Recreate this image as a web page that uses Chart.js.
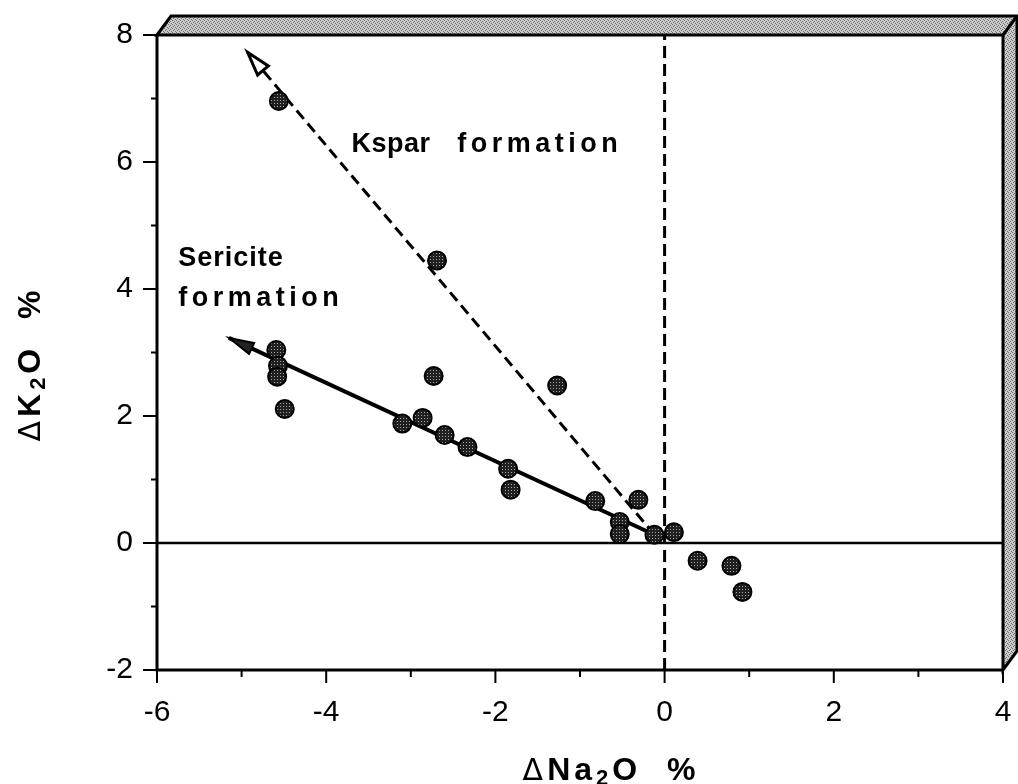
<!DOCTYPE html>
<html>
<head>
<meta charset="utf-8">
<script src="https://cdn.jsdelivr.net/npm/chart.js@4.4.1/dist/chart.umd.min.js"></script>
<style>
  html, body { margin: 0; padding: 0; background: #fff; }
</style>
</head>
<body>
<canvas id="NaKChart" width="1018" height="784"></canvas>
<script>
// sample changes (ΔNa2O, ΔK2O) in %
const sampleNa = [-4.56, -2.69, -1.27, -4.59, -4.57, -4.58, -4.49, -2.73, -3.10, -2.86, -2.60, -2.33,
                  -1.85, -1.82, -0.82, -0.31, -0.53, -0.53, -0.12, 0.11, 0.39, 0.79, 0.92]
const sampleK = [6.96, 4.45, 2.48, 3.04, 2.79, 2.62, 2.11, 2.63, 1.88, 1.97, 1.70, 1.51,
                 1.17, 0.84, 0.66, 0.68, 0.33, 0.14, 0.13, 0.17, -0.28, -0.36, -0.77]

// trend arrows, start -> tip
const ksparNa = [-0.12, -4.93]
const ksparK = [0.13, 7.73]
const sericiteNa = [-0.12, -5.15]
const sericiteK = [0.13, 3.23]

// zero reference lines
const zeroNa = [-6, 4]
const zeroK = [-2, 8]

const noteText = ["Kspar", "formation", "Sericite", "formation"]

function pts(xs, ys) {
  return xs.map((x, i) => ({ x: x, y: ys[i] }))
}

// grey stipple for the 3D box faces
function stipple(light, dark, size, dots) {
  const c = document.createElement("canvas")
  c.width = size; c.height = size
  const g = c.getContext("2d")
  g.fillStyle = light
  g.fillRect(0, 0, size, size)
  g.fillStyle = dark
  dots.forEach(d => g.fillRect(d[0], d[1], 1, 1))
  return g.createPattern(c, "repeat")
}

const faceFill = stipple("#cacaca", "#6c6c6c", 4, [[0, 0], [2, 1], [1, 2], [3, 3]])
const dotFill = stipple("#202020", "#a8a8a8", 3, [[1, 1]])

const FONT = "'Liberation Sans', Arial, Helvetica, sans-serif"

const boxPlugin = {
  id: "box",
  beforeDatasetsDraw(chart) {
    const { ctx, chartArea: a, scales } = chart
    const dx = 14, dy = 19
    ctx.save()
    ctx.lineJoin = "miter"
    // top and right faces
    ctx.fillStyle = faceFill
    ctx.beginPath()
    ctx.moveTo(a.left, a.top)
    ctx.lineTo(a.left + dx, a.top - dy)
    ctx.lineTo(a.right + dx, a.top - dy)
    ctx.lineTo(a.right + dx, a.bottom - dy)
    ctx.lineTo(a.right, a.bottom)
    ctx.lineTo(a.right, a.top)
    ctx.closePath()
    ctx.fill()
    ctx.strokeStyle = "#000"
    ctx.lineWidth = 3
    ctx.stroke()
    ctx.beginPath()
    ctx.moveTo(a.right, a.top)
    ctx.lineTo(a.right + dx, a.top - dy)
    ctx.stroke()

    // axes
    ctx.lineWidth = 3
    ctx.beginPath()
    ctx.moveTo(a.left, a.top)
    ctx.lineTo(a.left, a.bottom)
    ctx.lineTo(a.right, a.bottom)
    ctx.stroke()

    // tick marks, long on labelled values, short in between
    ctx.lineWidth = 2
    const xs = scales.x, ys = scales.y
    ctx.beginPath()
    for (let v = xs.min; v <= xs.max; v++) {
      const px = xs.getPixelForValue(v)
      const len = v % 2 === 0 ? 13 : 7
      ctx.moveTo(px, a.bottom)
      ctx.lineTo(px, a.bottom + len)
    }
    for (let v = ys.min; v <= ys.max; v++) {
      const py = ys.getPixelForValue(v)
      const len = v % 2 === 0 ? 14 : 6
      ctx.moveTo(a.left, py)
      ctx.lineTo(a.left - len, py)
    }
    ctx.stroke()
    ctx.restore()
  },
  afterDatasetsDraw(chart) {
    const { ctx } = chart
    const xs = chart.scales.x, ys = chart.scales.y
    function arrow(na, k, open) {
      const n = na.length
      const x0 = xs.getPixelForValue(na[n - 2]), y0 = ys.getPixelForValue(k[n - 2])
      const x1 = xs.getPixelForValue(na[n - 1]), y1 = ys.getPixelForValue(k[n - 1])
      const d = Math.hypot(x1 - x0, y1 - y0)
      const ux = (x1 - x0) / d, uy = (y1 - y0) / d
      const len = open ? 24 : 25, hw = open ? 7 : 6
      const bx = x1 - ux * len, by = y1 - uy * len
      ctx.save()
      ctx.beginPath()
      ctx.moveTo(x1, y1)
      ctx.lineTo(bx - uy * hw, by + ux * hw)
      ctx.lineTo(bx + uy * hw, by - ux * hw)
      ctx.closePath()
      ctx.fillStyle = open ? "#fff" : "#222"
      ctx.fill()
      ctx.lineWidth = open ? 3 : 2
      ctx.lineJoin = "miter"
      ctx.strokeStyle = "#000"
      ctx.stroke()
      ctx.restore()
    }
    arrow(ksparNa, ksparK, true)
    arrow(sericiteNa, sericiteK, false)
  },
  afterDraw(chart) {
    const { ctx } = chart
    const xs = chart.scales.x, ys = chart.scales.y
    ctx.save()
    ctx.fillStyle = "#000"
    ctx.textBaseline = "alphabetic"
    ctx.textAlign = "left"
    ctx.font = "bold 27px " + FONT
    // labels on the trends
    const notes = [
      [noteText[0], -3.70, 6.16, 0.5],
      [noteText[1], -2.45, 6.16, 4.5],
      [noteText[2], -5.75, 4.37, 1],
      [noteText[3], -5.75, 3.74, 4.5]
    ]
    notes.forEach(n => {
      ctx.letterSpacing = n[3] + "px"
      ctx.fillText(n[0], xs.getPixelForValue(n[1]), ys.getPixelForValue(n[2]))
    })

    // axis titles with subscript 2
    function rich(parts, cx, cy) {
      let w = 0
      parts.forEach(p => { ctx.font = p.font; ctx.letterSpacing = "4px"; w += ctx.measureText(p.t).width })
      let x = cx - w / 2
      parts.forEach(p => {
        ctx.font = p.font
        ctx.letterSpacing = "4px"
        ctx.fillText(p.t, x, cy + (p.dy || 0))
        x += ctx.measureText(p.t).width
      })
    }
    const big = "bold 32px " + FONT
    const sub = "bold 22px " + FONT
    const delta = "30px 'DejaVu Sans', " + FONT
    rich([{ t: "Δ", font: delta }, { t: "Na", font: big }, { t: "2", font: sub, dy: 5 }, { t: "O  %", font: big }], 611, 780)
    ctx.translate(40, 364)
    ctx.rotate(-Math.PI / 2)
    rich([{ t: "Δ", font: delta }, { t: "K", font: big }, { t: "2", font: sub, dy: 5 }, { t: "O  %", font: big }], 0, 0)
    ctx.restore()
  }
}

const ctx = document.getElementById("NaKChart").getContext("2d")

const config = {
  type: "scatter",
  data: {
    datasets: [
      {
        data: pts(sampleNa, sampleK),
        order: 0,
        pointRadius: 9,
        pointBorderWidth: 2,
        pointBackgroundColor: dotFill,
        pointBorderColor: "#000"
      },
      {
        data: pts(sericiteNa, sericiteK),
        order: 1,
        showLine: true,
        borderColor: "#000",
        borderWidth: 4,
        pointRadius: 0
      },
      {
        data: pts(ksparNa, ksparK),
        order: 2,
        showLine: true,
        borderColor: "#000",
        borderWidth: 3,
        borderDash: [11, 6],
        pointRadius: 0
      },
      {
        data: pts([0, 0], zeroK),
        order: 3,
        showLine: true,
        borderColor: "#000",
        borderWidth: 3,
        borderDash: [12, 6],
        pointRadius: 0
      },
      {
        data: pts(zeroNa, [0, 0]),
        order: 4,
        showLine: true,
        borderColor: "#000",
        borderWidth: 2.5,
        pointRadius: 0
      }
    ]
  },
  options: {
    responsive: false,
    animation: false,
    layout: { padding: { top: 35, right: 15, left: 0, bottom: 0 } },
    plugins: { legend: { display: false }, tooltip: { enabled: false } },
    scales: {
      x: {
        type: "linear",
        min: -6,
        max: 4,
        ticks: { stepSize: 2, color: "#000", font: { family: FONT, size: 30 }, padding: 17, maxRotation: 0 },
        grid: { display: false },
        border: { display: false },
        afterFit(s) { s.height = 114; s.paddingLeft = 0; s.paddingRight = 0 }
      },
      y: {
        type: "linear",
        min: -2,
        max: 8,
        ticks: { stepSize: 2, color: "#000", font: { family: FONT, size: 30 }, padding: 16 },
        grid: { display: false },
        border: { display: false },
        afterFit(s) { s.width = 157; s.paddingTop = 0; s.paddingBottom = 0 }
      }
    }
  },
  plugins: [boxPlugin]
}

const myChart = new Chart(ctx, config)
</script>
</body>
</html>
